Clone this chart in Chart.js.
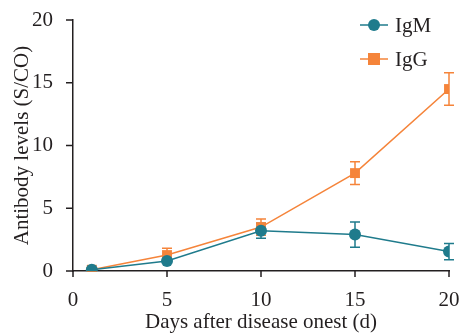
<!DOCTYPE html>
<html lang="en">
<head>
  <meta charset="UTF-8">
  <title>Antibody levels</title>
  <script src="https://cdn.jsdelivr.net/npm/chart.js"></script>
  <style>
    html, body { margin: 0; padding: 0; background: #fff; }
  </style>
</head>
<body>
  <canvas id="abChart" width="462" height="335" style="width:462px;height:335px;"></canvas>
  <script>
    // data
    var days = [1, 5, 10, 15, 20];
    var igmMean = [0.1, 0.8, 3.2, 2.9, 1.55];
    var igmErr = [0.15, 0.15, 0.6, 1.0, 0.65];
    var igGMean = [0.1, 1.27, 3.5, 7.8, 14.5];
    var igGErr = [0.15, 0.55, 0.65, 0.9, 1.3];
    var xTicks = [0, 5, 10, 15, 20];
    var yTicks = [0, 5, 10, 15, 20];

    var tealColor = '#1f7b8c';
    var orangeColor = '#f5843a';
    var inkColor = '#231f20';
    var serif = "'Liberation Serif', 'DejaVu Serif', serif";

    function toPoints(xs, ys) {
      return xs.map(function (x, i) { return { x: x, y: ys[i] }; });
    }

    // error bars, drawn under the markers
    var errorBars = {
      id: 'errorBars',
      beforeDatasetsDraw: function (chart) {
        var ctx = chart.ctx;
        var xs = chart.scales.x, ys = chart.scales.y;
        chart.data.datasets.forEach(function (ds) {
          ctx.save();
          ctx.strokeStyle = ds.borderColor;
          ctx.lineWidth = 1.5;
          ds.data.forEach(function (p, i) {
            var e = ds.errors[i];
            var px = xs.getPixelForValue(p.x);
            var top = ys.getPixelForValue(p.y + e);
            var bot = ys.getPixelForValue(Math.max(p.y - e, 0));
            ctx.beginPath();
            ctx.moveTo(px, top); ctx.lineTo(px, bot);
            ctx.moveTo(px - 5, top); ctx.lineTo(px + 5, top);
            ctx.moveTo(px - 5, bot); ctx.lineTo(px + 5, bot);
            ctx.stroke();
          });
          ctx.restore();
        });
      }
    };

    // outward tick marks on both axes
    var axisTicks = {
      id: 'axisTicks',
      afterDraw: function (chart) {
        var ctx = chart.ctx;
        var xs = chart.scales.x, ys = chart.scales.y;
        var area = chart.chartArea;
        ctx.save();
        ctx.strokeStyle = inkColor;
        ctx.lineWidth = 1.5;
        ctx.beginPath();
        xs.ticks.forEach(function (t) {
          var px = xs.getPixelForValue(t.value);
          ctx.moveTo(px, area.bottom); ctx.lineTo(px, area.bottom + 6);
        });
        ys.ticks.forEach(function (t) {
          var py = ys.getPixelForValue(t.value);
          ctx.moveTo(area.left, py); ctx.lineTo(area.left - 7, py);
        });
        ctx.stroke();
        ctx.restore();
      }
    };

    // legend with line through marker
    var lineLegend = {
      id: 'lineLegend',
      afterDraw: function (chart) {
        var ctx = chart.ctx;
        var x0 = 360, y0 = 25, gap = 34;
        chart.data.datasets.forEach(function (ds, i) {
          var y = y0 + i * gap;
          ctx.save();
          ctx.strokeStyle = ds.borderColor;
          ctx.fillStyle = ds.backgroundColor;
          ctx.lineWidth = 1.5;
          ctx.beginPath();
          ctx.moveTo(x0, y); ctx.lineTo(x0 + 28, y);
          ctx.stroke();
          if (ds.pointStyle === 'rect') {
            ctx.fillRect(x0 + 8, y - 6, 12, 12);
          } else {
            ctx.beginPath();
            ctx.arc(x0 + 14, y, 6, 0, Math.PI * 2);
            ctx.fill();
          }
          ctx.fillStyle = inkColor;
          ctx.font = '21px ' + serif;
          ctx.textBaseline = 'middle';
          ctx.fillText(ds.label, x0 + 35, y + 1);
          ctx.restore();
        });
      }
    };

    var config = {
      type: 'line',
      data: {
        datasets: [
          {
            label: 'IgM',
            data: toPoints(days, igmMean),
            errors: igmErr,
            borderColor: tealColor,
            backgroundColor: tealColor,
            borderWidth: 1.5,
            pointStyle: 'circle',
            pointRadius: 6,
            pointBorderWidth: 0,
            fill: false
          },
          {
            label: 'IgG',
            data: toPoints(days, igGMean),
            errors: igGErr,
            borderColor: orangeColor,
            backgroundColor: orangeColor,
            borderWidth: 1.5,
            pointStyle: 'rect',
            pointRadius: 7,
            pointBorderWidth: 0,
            fill: false
          }
        ]
      },
      options: {
        responsive: false,
        animation: false,
        layout: { padding: { top: 20, right: 13, left: 5, bottom: 0 } },
        plugins: {
          legend: { display: false },
          tooltip: { enabled: false }
        },
        scales: {
          x: {
            type: 'linear',
            min: 0,
            max: 20,
            afterBuildTicks: function (s) { s.ticks = xTicks.map(function (v) { return { value: v }; }); },
            afterFit: function (s) { s.height = 64; s.paddingLeft = 0; s.paddingRight = 0; },
            grid: { display: false },
            border: { display: true, color: inkColor, width: 1.5 },
            ticks: { color: inkColor, font: { family: serif, size: 21 }, padding: 9, maxRotation: 0 },
            title: { display: true, text: 'Days after disease onest (d)', color: inkColor, font: { family: serif, size: 21 }, padding: { top: 0, bottom: 0 } }
          },
          y: {
            min: 0,
            max: 20,
            afterBuildTicks: function (s) { s.ticks = yTicks.map(function (v) { return { value: v }; }); },
            afterFit: function (s) { s.width = 68; s.paddingTop = 0; s.paddingBottom = 0; },
            grid: { display: false },
            border: { display: true, color: inkColor, width: 1.5 },
            ticks: { color: inkColor, font: { family: serif, size: 21 }, padding: 12 },
            title: { display: true, text: 'Antibody levels (S/CO)', color: inkColor, font: { family: serif, size: 21 }, padding: { top: 5, bottom: 0 } }
          }
        }
      },
      plugins: [errorBars, axisTicks, lineLegend]
    };

    var abChart = new Chart(document.getElementById('abChart'), config);
  </script>
</body>
</html>
